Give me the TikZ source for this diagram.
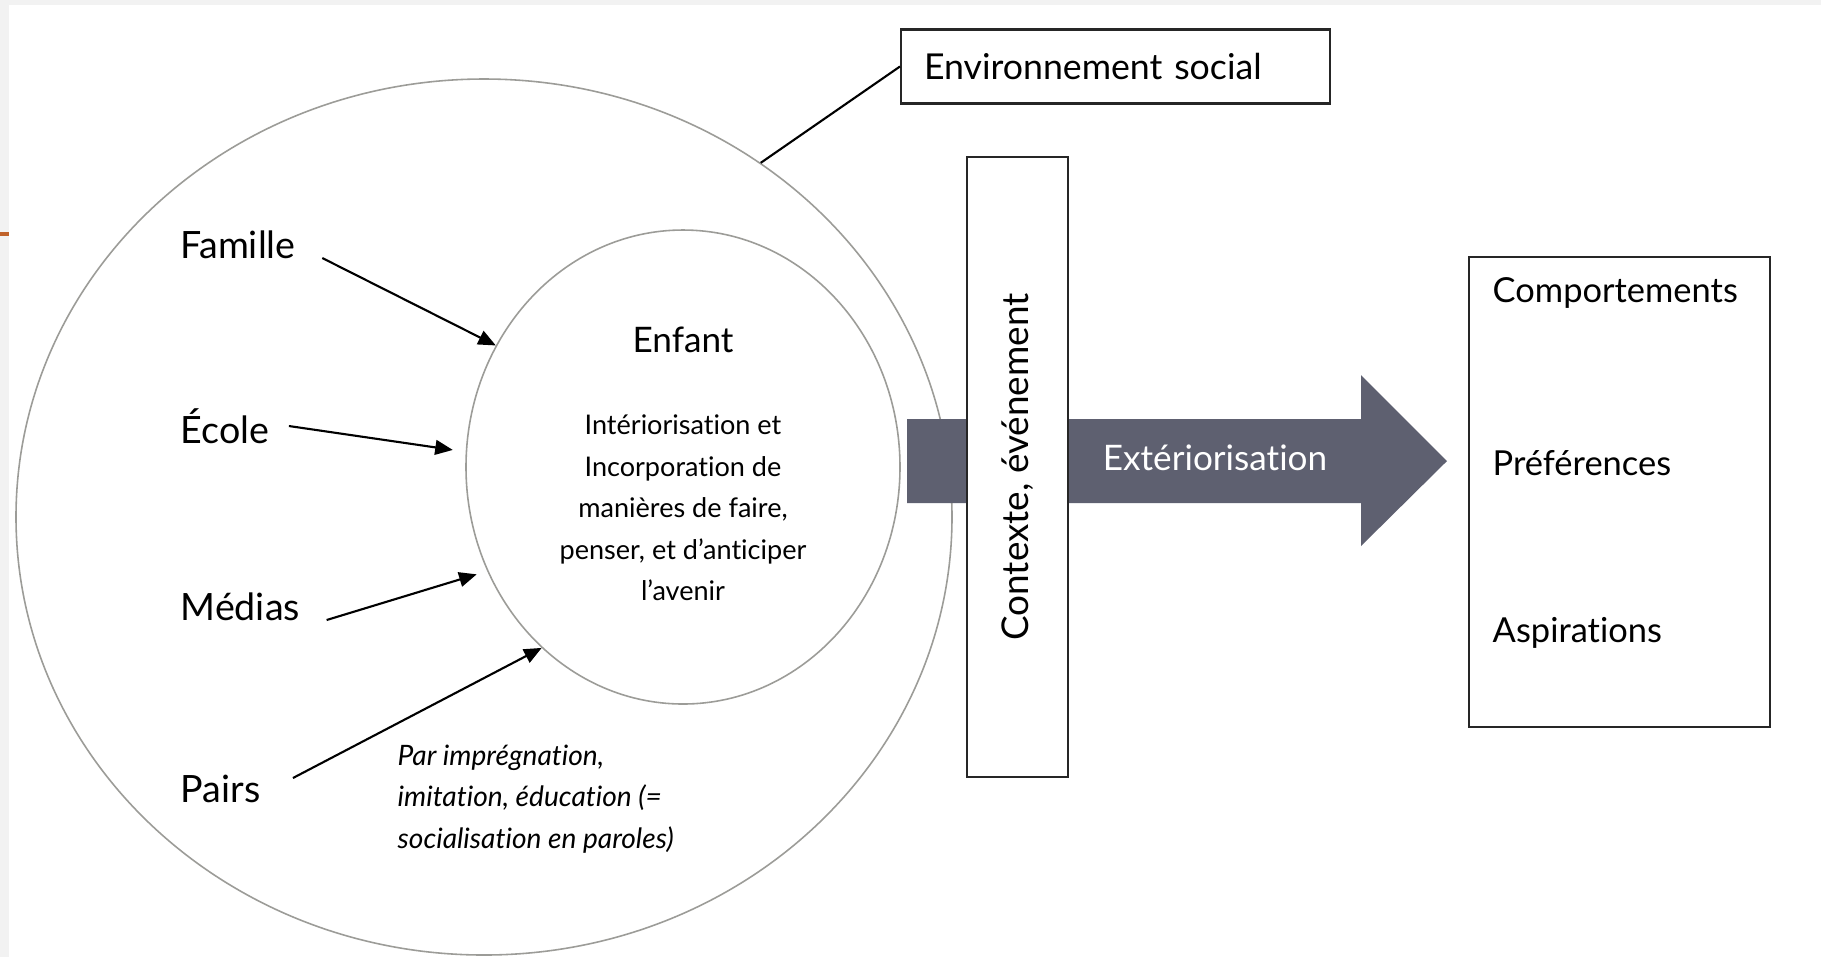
\documentclass[tikz,border=0pt]{standalone}
\usepackage{fontspec}
\setmainfont[Ligatures=NoCommon]{Lato}
\usetikzlibrary{shapes.geometric,arrows.meta}

\definecolor{flowgrey}{HTML}{5E6070}
\definecolor{ringgrey}{HTML}{9C9C98}
\definecolor{slideorange}{HTML}{C0622A}

\begin{document}
\begin{tikzpicture}[
    ring/.style={ellipse, draw=ringgrey, line width=0.45pt, inner sep=0pt},
    framebox/.style={draw=black!85, line width=0.6pt, fill=white},
    source/.style={anchor=west, inner sep=0pt, font=\fontsize{10.7}{12}\selectfont},
    item/.style={anchor=west, inner sep=0pt, font=\fontsize{9.8}{12}\selectfont},
    push/.style={-{Triangle[length=5pt,width=4.2pt]}, line width=0.6pt}
]
    \useasboundingbox (0,0) rectangle (18.21,-9.57);
    \fill[white] (0,0) rectangle (18.21,-9.57);
    \fill[black!5] (0,0) rectangle (0.09,-9.57);
    \fill[black!5] (0,0) rectangle (18.21,-0.05);
    \draw[slideorange, line width=0.9pt] (0,-2.34) -- (0.09,-2.34);

    % environnement social et enfant
    \node[ring, minimum width=9.36cm, minimum height=8.76cm] (milieu) at (4.84,-5.17) {};
    \node[ring, minimum width=4.34cm, minimum height=4.74cm] (enfant) at (6.83,-4.67) {};

    \node[font=\fontsize{10}{12}\selectfont] (titre) at (6.83,-3.40) {Enfant};
    \node[align=center, font=\fontsize{7.7}{11.8}\selectfont] (interne) at (6.83,-5.08)
        {Intériorisation et\\Incorporation de\\manières de faire,\\penser, et d’anticiper\\l’avenir};

    \node[source] (famille) at (1.80,-2.45) {Famille};
    \node[source] (ecole) at (1.80,-4.26) {École};
    \node[source] (medias) at (1.80,-6.07) {Médias};
    \node[source] (pairs) at (1.80,-7.89) {Pairs};

    \draw[push] ([shift={(0.26,-0.13)}]famille.east) -- (enfant.147);
    \draw[push, shorten >=0.13cm] ([shift={(0.19,0)}]ecole.east) -- (enfant.176);
    \draw[push, shorten >=0.11cm] ([shift={(0.26,-0.13)}]medias.east) -- (enfant.208);
    \draw[push] ([shift={(0.32,0.11)}]pairs.east) -- (enfant.232);

    \node[anchor=west, align=left, inner sep=0pt, font=\itshape\fontsize{8}{11.9}\selectfont] (mode) at (3.97,-7.99)
        {Par imprégnation,\\imitation, éducation (=\\socialisation en paroles)};

    \node[framebox, minimum width=4.29cm, minimum height=0.74cm, inner xsep=0.23cm,
        text width=3.83cm, align=left, font=\fontsize{10.15}{12}\selectfont] (envbox) at (11.155,-0.665) {Environnement social};
    \draw[line width=0.6pt] (milieu.52) -- (envbox.west);

    % extériorisation
    \fill[flowgrey] (9.07,-4.19) -- (13.61,-4.19) -- (13.61,-3.75) -- (14.47,-4.61)
        -- (13.61,-5.46) -- (13.61,-5.03) -- (9.07,-5.03) -- cycle;
    \node[text=white, font=\fontsize{10}{12}\selectfont] (sortie) at (12.15,-4.58) {Extériorisation};

    \node[framebox, rotate=90, minimum width=6.20cm, minimum height=1.01cm,
        font=\fontsize{10.5}{12}\selectfont] (contexte) at (10.175,-4.67) {Contexte, événement};

    \node[framebox, minimum width=3.01cm, minimum height=4.70cm] (effets) at (16.195,-4.92) {};
    \node[item] (comport) at (14.92,-2.93) {Comportements};
    \node[item] (pref) at (14.92,-4.63) {Préférences};
    \node[item] (aspir) at (14.92,-6.33) {Aspirations};

\end{tikzpicture}
\end{document}
